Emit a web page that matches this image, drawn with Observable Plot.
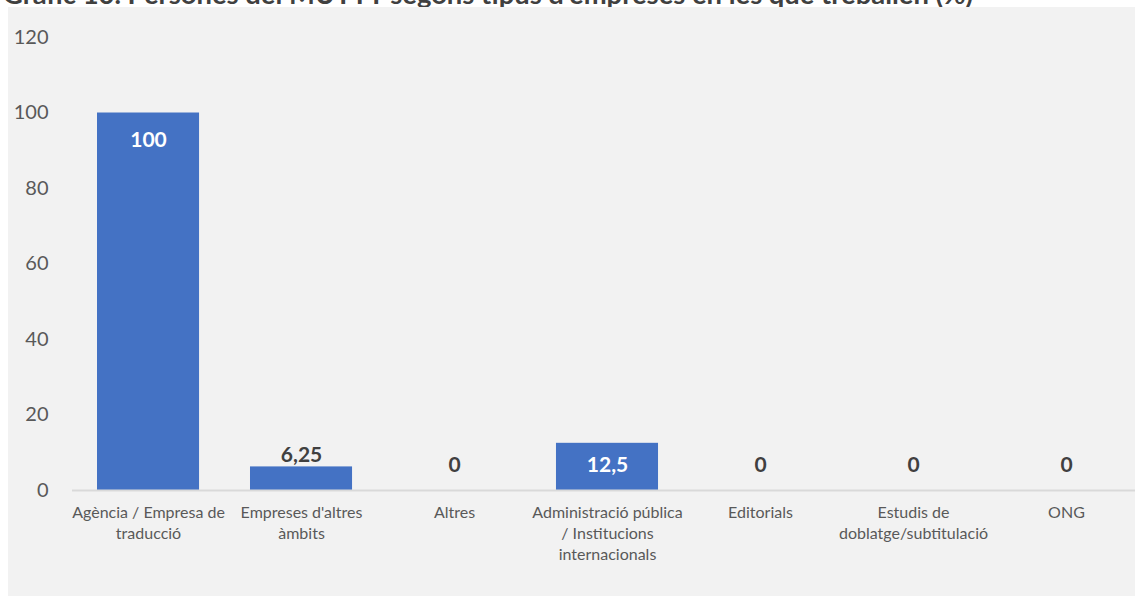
<!DOCTYPE html>
<html>
<head>
<meta charset="utf-8">
<script src="https://cdn.jsdelivr.net/npm/d3@7"></script>
<script src="https://cdn.jsdelivr.net/npm/@observablehq/plot@0.6"></script>
<style>
  html, body { margin: 0; padding: 0; background: #ffffff; }
  body { width: 1135px; height: 596px; position: relative; overflow: hidden; font-family: Lato, "Open Sans", sans-serif; }
  #title { position: absolute; left: 3px; top: -22px; font-size: 27.4px; line-height: 1.2; font-weight: 700; color: #404040; white-space: nowrap; z-index: 0; }
  #chart { position: absolute; left: 8px; top: 7px; width: 1127px; height: 589px; background: #f2f2f2; z-index: 1; }
</style>
</head>
<body>
<div id="title">Gràfic 10. Persones del MUTTT segons tipus d'empreses en les que treballen (%)</div>
<div id="chart"></div>
<script>
const categories = [
  "Agència / Empresa de traducció",
  "Empreses d'altres àmbits",
  "Altres",
  "Administració pública / Institucions internacionals",
  "Editorials",
  "Estudis de doblatge/subtitulació",
  "ONG"
];
const tickLabels = [
  "Agència / Empresa de\ntraducció",
  "Empreses d'altres\nàmbits",
  "Altres",
  "Administració pública\n/ Institucions\ninternacionals",
  "Editorials",
  "Estudis de\ndoblatge/subtitulació",
  "ONG"
];
const values = [100, 6.25, 0, 12.5, 0, 0, 0];
const valueLabels = ["100", "6,25", "0", "12,5", "0", "0", "0"];
const yTicks = [0, 20, 40, 60, 80, 100, 120];

const data = categories.map((c, i) => ({cat: c, value: values[i], label: valueLabels[i]}));
const tickMap = new Map(categories.map((c, i) => [c, tickLabels[i]]));

const bigInside = data.filter(d => d.value >= 50);
const smallInside = data.filter(d => d.value >= 10 && d.value < 50);
const smallOutside = data.filter(d => d.value > 0 && d.value < 10);
const zeros = data.filter(d => d.value === 0);

const chart = Plot.plot({
  width: 1127,
  height: 589,
  marginLeft: 64,
  marginRight: 0,
  marginTop: 30,
  marginBottom: 106,
  style: {background: "#f2f2f2", fontFamily: "Lato, 'Open Sans', sans-serif", overflow: "visible"},
  x: {domain: categories, range: [63.5, 1134.5], paddingInner: 0.333, paddingOuter: 0.1667, round: false},
  y: {domain: [0, 120], range: [483, 30]},
  marks: [
    Plot.barY(data, {x: "cat", y: "value", fill: "#4472c4"}),
    Plot.ruleY([0], {stroke: "#d9d9d9", strokeWidth: 2}),
    Plot.axisY({ticks: yTicks, tickSize: 0, tickPadding: 24, fontSize: 20, color: "#595959", label: null}),
    Plot.axisX({tickSize: 0, tickPadding: 12, fontSize: 16, lineHeight: 1.32, color: "#595959", label: null,
      tickFormat: d => tickMap.get(d)}),
    Plot.text(bigInside, {x: "cat", y: "value", text: "label", dy: 27, fill: "#ffffff", fontSize: 21, fontWeight: "bold"}),
    Plot.text(smallInside, {x: "cat", y: "value", text: "label", dy: 22, fill: "#ffffff", fontSize: 21, fontWeight: "bold"}),
    Plot.text(smallOutside, {x: "cat", y: "value", text: "label", dy: -12, fill: "#404040", fontSize: 21, fontWeight: "bold"}),
    Plot.text(zeros, {x: "cat", y: "value", text: "label", dy: -25, fill: "#404040", fontSize: 21, fontWeight: "bold"})
  ]
});
document.getElementById("chart").appendChild(chart);
</script>
</body>
</html>
